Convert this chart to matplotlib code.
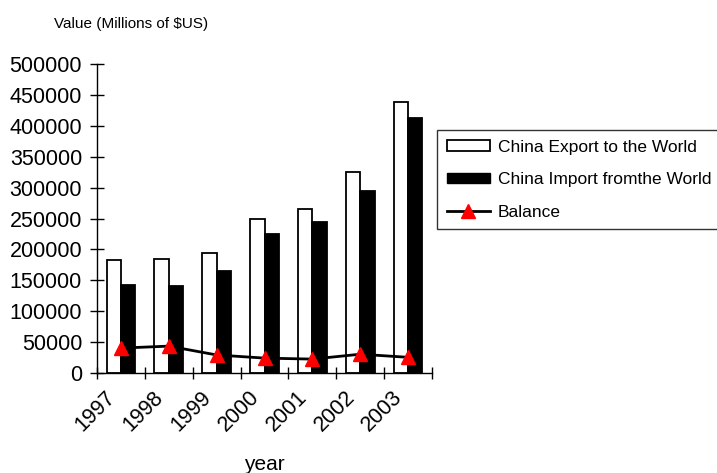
import numpy as np
import matplotlib.pyplot as plt
import matplotlib.transforms as mtransforms
from matplotlib.patches import Patch
from matplotlib.lines import Line2D

plt.rcParams['font.family'] = ['Liberation Sans', 'DejaVu Sans']

years = ['1997', '1998', '1999', '2000', '2001', '2002', '2003']
export_world = [182700, 183700, 194900, 249200, 266100, 325600, 438200]
import_world = [142400, 140200, 165700, 225100, 243600, 295200, 412800]
balance = [40300, 43500, 29200, 24100, 22500, 30400, 25400]

x = np.arange(len(years))
w = 0.30

fig = plt.figure(figsize=(7.17, 4.73), dpi=100)
ax = fig.add_axes([0.1353, 0.2114, 0.4672, 0.6533])

ax.bar(x - w / 2, export_world, width=w, color='white', edgecolor='black', linewidth=1.3)
ax.bar(x + w / 2, import_world, width=w, color='black', edgecolor='black', linewidth=1.3)
ax.plot(x, balance, color='black', linewidth=2, marker='^', markersize=10,
        markerfacecolor='red', markeredgecolor='red', zorder=3)

ax.set_xlim(-0.5, len(years) - 0.5)
ax.set_ylim(0, 500000)
ax.set_yticks(np.arange(0, 500001, 50000))
ax.tick_params(axis='y', direction='inout', length=9.5, width=1, labelsize=15.5, pad=6)

# tick marks at category boundaries, labels near the centres
ax.set_xticks(np.arange(-0.5, len(years), 1), minor=True)
ax.set_xticks(x)
ax.set_xticklabels(years, rotation=45, ha='right', rotation_mode='anchor')
ax.tick_params(axis='x', which='minor', direction='inout', length=8, width=1)
ax.tick_params(axis='x', which='major', length=0, labelsize=15.5, pad=10)
shift = mtransforms.ScaledTranslation(-0.16, 0.0, fig.dpi_scale_trans)
for lbl in ax.get_xticklabels():
    lbl.set_transform(lbl.get_transform() + shift)

for s in ['top', 'right']:
    ax.spines[s].set_visible(False)
for s in ['left', 'bottom']:
    ax.spines[s].set_linewidth(1)

ax.set_xlabel('year', fontsize=15)
ax.xaxis.set_label_coords(0.5, -0.264)

fig.text(0.075, 0.95, 'Value (Millions of $US)', fontsize=11, va='center')

handles = [
    Patch(facecolor='white', edgecolor='black', linewidth=1.3),
    Patch(facecolor='black', edgecolor='black'),
    Line2D([0], [0], color='black', linewidth=2, marker='^', markersize=10,
           markerfacecolor='red', markeredgecolor='red'),
]
labels = ['China Export to the World', 'China Import fromthe World', 'Balance']
leg = fig.legend(handles, labels, loc='upper left', bbox_to_anchor=(0.6095, 0.7252),
                 fontsize=12.5, frameon=True, fancybox=False, shadow=False,
                 handlelength=2.5, handleheight=0.55, handletextpad=0.45,
                 labelspacing=1.02, borderpad=0.55, borderaxespad=0)
leg.get_frame().set_edgecolor('black')
leg.get_frame().set_linewidth(1)

fig.savefig('out.png', dpi=100)
